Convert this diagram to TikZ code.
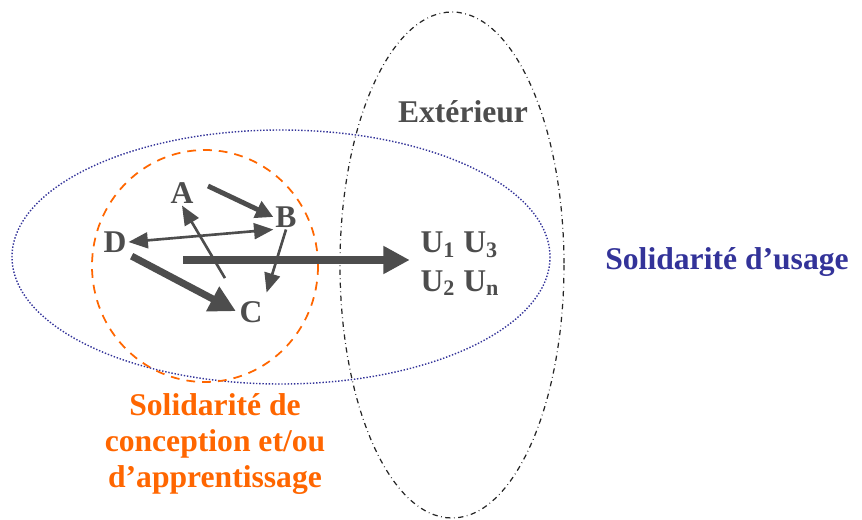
\documentclass[tikz,border=0pt]{standalone}
\usepackage{fontspec}
\setmainfont{Liberation Serif}
\usepackage{tikz}
\usetikzlibrary{arrows.meta}
\definecolor{dgray}{HTML}{4D4D4D}
\definecolor{sorange}{HTML}{FF6600}
\definecolor{sblue}{HTML}{333399}
\tikzset{
    lettre/.style={
           font=\fontsize{18}{20}\selectfont\bfseries,
           text=dgray,
           inner sep=1pt,
           },
}
\tikzset{
    titre/.style={
           font=\fontsize{18}{20.5}\selectfont\bfseries,
           align=center,
           inner sep=0pt,
           },
}
\tikzset{
    fine/.style={
           draw=dgray,
           -{Triangle[length=11pt,width=9pt]},
           line width=1.5pt,
           },
    moyenne/.style={
           draw=dgray,
           -{Triangle[length=10pt,width=10pt]},
           line width=2.8pt,
           },
    grosse/.style={
           draw=dgray,
           -{Triangle[length=15pt,width=15pt]},
           line width=4pt,
           },
}

\begin{document}
\begin{tikzpicture}[x=0.02cm,y=-0.02cm]
\useasboundingbox (0,0) rectangle (862,520);
% les trois zones
\draw[sblue,densely dotted,line width=0.8pt] (281,257) ellipse (269 and 127);
\draw[black!85,dash dot,line width=0.7pt] (452,265) ellipse (112 and 253);
\draw[sorange,dashed,line width=1pt,dash pattern=on 5pt off 4pt] (205,266) ellipse (113 and 116);
% les acteurs
\node[lettre](A) at (182,193){A};
\node[lettre](B) at (286,217){B};
\node[lettre](D) at (115,242){D};
\node[lettre](C) at (251,312){C};
\node[lettre,align=left](U) at (460,264){U\textsubscript{1} U\textsubscript{3}\\[2pt]U\textsubscript{2} U\textsubscript{n}};
\coordinate (depart) at (183,260);
% les liens
\draw[moyenne] (208,186) -- (B.west);
\draw[fine,{Triangle[length=11pt,width=9pt]}-{Triangle[length=11pt,width=9pt]}] (D.east) -- (B.south west);
\draw[fine,shorten <=14pt] (C.north west) -- (A.south);
\draw[fine,shorten >=4pt] (B.south) -- (C.north east);
\draw[grosse,shorten <=2pt,shorten >=1pt] (D.south east) -- (C.west);
\draw[grosse,shorten >=5pt] (depart) -- (U.west |- depart);
% les titres
\node[titre,text=dgray](ext) at (463,112){Extérieur};
\node[titre,text=sorange](conc) at (215,444){Solidarité de\\conception et/ou\\d’apprentissage};
\node[titre,text=sblue](usage) at (727,262){Solidarité d’usage};
\end{tikzpicture}
\end{document}
